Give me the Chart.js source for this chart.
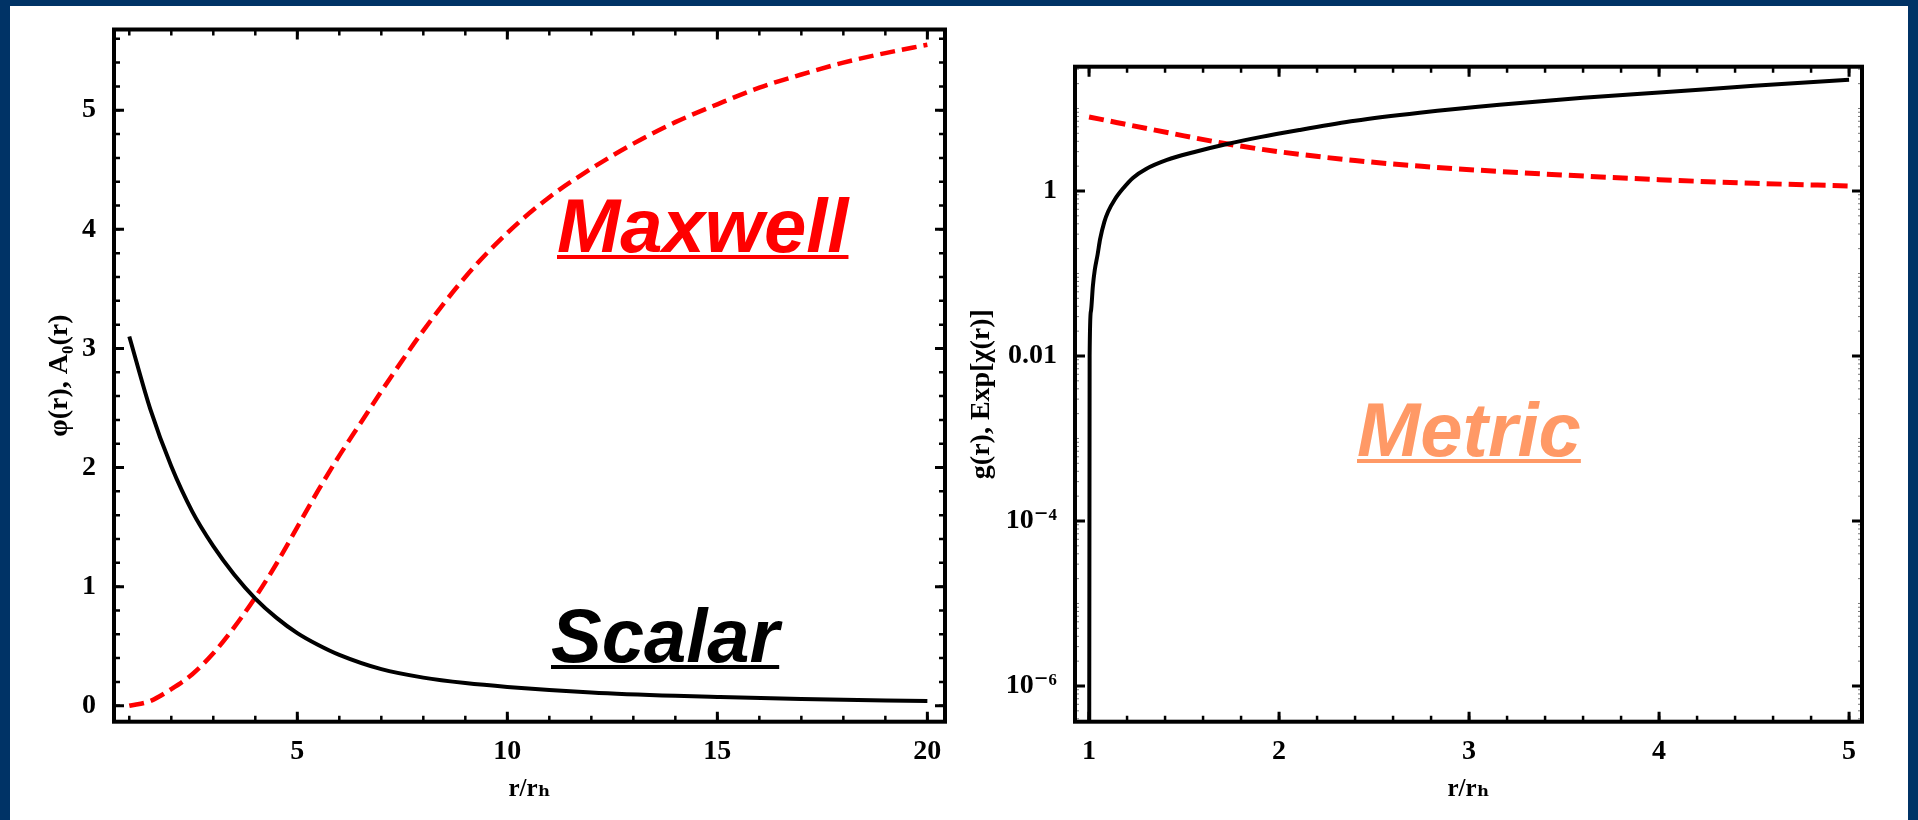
<!DOCTYPE html>
<html>

<head>
  <title>Scalar, Maxwell and metric profiles</title>
  <script src="https://cdn.jsdelivr.net/npm/chart.js@4.4.1/dist/chart.umd.min.js"></script>

  <style>
    body {
      margin: 0;
      background-color: #003366;
      width: 1918px;
      height: 820px;
      overflow: hidden;
      position: relative;
    }

    .panel {
      position: absolute;
      left: 10px;
      top: 6px;
      width: 1898px;
      height: 814px;
      background: white;
    }

    canvas {
      position: absolute;
      top: 0;
    }

    #fieldChart {
      left: 0;
    }

    #metricChart {
      left: 960px;
    }

    .tag {
      position: absolute;
      font-family: 'Liberation Sans', Arial, sans-serif;
      font-weight: bold;
      font-style: italic;
      font-size: 76px;
      line-height: 76px;
      text-decoration: underline;
      text-decoration-thickness: 4px;
      text-underline-offset: 3px;
      white-space: nowrap;
    }
  </style>
</head>

<body>
  <div class="panel"></div>
  <canvas id="fieldChart" width="960" height="820"></canvas>
  <canvas id="metricChart" width="958" height="820"></canvas>

  <div class="tag" style="left:557px; top:188px; color:#ff0000;">Maxwell</div>
  <div class="tag" style="left:551px; top:598px; color:#000000;">Scalar</div>
  <div class="tag" style="left:1357px; top:392px; color:#ff9966;">Metric</div>

  <script>
    // left panel: scalar field phi(r) and Maxwell potential A0(r)
    const scalarR = [1, 1.5, 2, 2.5, 3, 3.5, 4, 4.5, 5, 5.5, 6, 7, 8, 9, 10, 12, 14, 15, 17, 20];
    const scalarPhi = [3.1, 2.49, 2.01, 1.63, 1.34, 1.1, 0.9, 0.74, 0.61, 0.51, 0.427, 0.307, 0.236, 0.19, 0.158, 0.112, 0.083, 0.073, 0.056, 0.04];

    const maxwellR = [1, 1.5, 2, 2.5, 3, 3.5, 4, 4.5, 5, 5.5, 6, 6.5, 7, 7.5, 8, 9, 10, 11, 12, 13, 14, 15, 16, 17, 18, 19, 20];
    const maxwellA0 = [0, 0.04, 0.14, 0.265, 0.44, 0.66, 0.91, 1.19, 1.5, 1.81, 2.1, 2.37, 2.64, 2.9, 3.15, 3.6, 3.97, 4.27, 4.51, 4.72, 4.9, 5.05, 5.19, 5.3, 5.4, 5.48, 5.55];

    // right panel: metric function g(r) and Exp[chi(r)]
    const metricR = [1, 1.003, 1.01, 1.02, 1.03, 1.045, 1.058, 1.08, 1.1, 1.137, 1.18, 1.232, 1.3, 1.41, 1.55, 1.726, 1.9, 2.11, 2.4, 2.74, 3.16, 3.6, 4.04, 4.5, 5];
    const metricG = [1e-9, 0.01, 0.035, 0.07, 0.11, 0.17, 0.26, 0.42, 0.56, 0.8, 1.08, 1.45, 1.85, 2.38, 2.95, 3.71, 4.5, 5.5, 7.1, 8.87, 11.1, 13.5, 15.8, 18.8, 22.3];

    const chiR = [1, 1.15, 1.33, 1.5, 1.73, 2.0, 2.4, 2.75, 3.17, 3.5, 4.0, 4.5, 5.0];
    const chiExp = [7.9, 6.73, 5.56, 4.66, 3.71, 2.99, 2.34, 1.99, 1.72, 1.56, 1.37, 1.24, 1.15];

    // tick labels
    const fieldXTicks = [5, 10, 15, 20];
    const fieldYTicks = [0, 1, 2, 3, 4, 5];
    const metricXTicks = [1, 2, 3, 4, 5];
    const metricYTicks = [1e-6, 1e-4, 1e-2, 1];
    const metricYLabels = ['10⁻⁶', '10⁻⁴', '0.01', '1'];

    const serif = "'Liberation Serif', 'DejaVu Serif', 'Times New Roman', serif";
    const tickFont = { family: serif, size: 28, weight: 'bold' };
    const titleFont = { family: serif, size: 25, weight: 'bold' };
    const yTitleFont = { family: serif, size: 28, weight: 'bold' };

    function steps(from, to, step) {
      const out = [];
      for (let v = from; v <= to + 1e-9; v += step) out.push(+v.toFixed(4));
      return out;
    }

    function logMinor(lo, hi) {
      const out = [];
      for (let n = lo; n <= hi; n++) {
        for (let k = 1; k < 10; k++) out.push(k * Math.pow(10, n));
      }
      return out;
    }

    function points(xs, ys) {
      return xs.map((x, i) => ({ x: x, y: ys[i] }));
    }

    // Mathematica style frame: ticks pointing inwards on all four sides
    const frameTicks = {
      id: 'frameTicks',
      afterDatasetsDraw(chart, args, opts) {
        const { ctx, chartArea: a } = chart;
        const sx = chart.scales.x;
        const sy = chart.scales.y;
        ctx.save();
        ctx.lineCap = 'butt';

        function drawX(vals, len, w, col) {
          ctx.lineWidth = w;
          ctx.strokeStyle = col;
          ctx.beginPath();
          vals.forEach(v => {
            const p = sx.getPixelForValue(v);
            if (p < a.left || p > a.right) return;
            ctx.moveTo(p, a.bottom);
            ctx.lineTo(p, a.bottom - len);
            ctx.moveTo(p, a.top);
            ctx.lineTo(p, a.top + len);
          });
          ctx.stroke();
        }

        function drawY(vals, len, w, col) {
          ctx.lineWidth = w;
          ctx.strokeStyle = col;
          ctx.beginPath();
          vals.forEach(v => {
            const p = sy.getPixelForValue(v);
            if (p < a.top || p > a.bottom) return;
            ctx.moveTo(a.left, p);
            ctx.lineTo(a.left + len, p);
            ctx.moveTo(a.right, p);
            ctx.lineTo(a.right - len, p);
          });
          ctx.stroke();
        }

        drawX(opts.xMinor, 6, 2.5, '#000');
        drawX(opts.xMajor, 10, 3, '#000');
        drawY(opts.yMinor, opts.yMinorLen, opts.yMinorWidth, opts.yMinorColor);
        drawY(opts.yMajor, 10, 3, '#000');

        ctx.lineWidth = 4;
        ctx.strokeStyle = '#000';
        ctx.strokeRect(a.left, a.top, a.right - a.left, a.bottom - a.top);
        ctx.restore();
      }
    };

    function axisX(min, max, ticks, height) {
      return {
        type: 'linear',
        min: min,
        max: max,
        afterBuildTicks: s => { s.ticks = ticks.map(v => ({ value: v })); },
        afterFit: s => { s.height = height; },
        grid: { display: false },
        border: { display: false },
        ticks: {
          padding: 5,
          color: '#000',
          font: tickFont,
          autoSkip: false,
          maxRotation: 0,
          callback: v => String(v)
        },
        title: {
          display: true,
          text: 'r/rₕ',
          color: '#000',
          font: titleFont,
          padding: { top: 0, bottom: 15 }
        }
      };
    }

    // ---- left chart ----
    new Chart(document.getElementById('fieldChart').getContext('2d'), {
      type: 'line',
      data: {
        datasets: [
          {
            label: 'φ(r)',
            data: points(scalarR, scalarPhi),
            borderColor: '#000000',
            borderWidth: 4,
            pointRadius: 0,
            fill: false,
            cubicInterpolationMode: 'monotone'
          },
          {
            label: 'A₀(r)',
            data: points(maxwellR, maxwellA0),
            borderColor: '#ff0000',
            borderWidth: 4.5,
            borderDash: [15, 7],
            pointRadius: 0,
            fill: false,
            cubicInterpolationMode: 'monotone'
          }
        ]
      },
      options: {
        responsive: false,
        animation: false,
        devicePixelRatio: 1,
        layout: { padding: { top: 29.5, right: 15, left: 0, bottom: 0 } },
        plugins: {
          legend: { display: false },
          tooltip: { enabled: false },
          frameTicks: {
            xMajor: fieldXTicks,
            xMinor: steps(1, 20, 1),
            yMajor: fieldYTicks,
            yMinor: steps(0, 5.6, 0.2),
            yMinorLen: 6,
            yMinorWidth: 2.5,
            yMinorColor: '#000'
          }
        },
        scales: {
          x: axisX(0.636, 20.42, fieldXTicks, 98.3),
          y: {
            type: 'linear',
            min: -0.134,
            max: 5.678,
            afterBuildTicks: s => { s.ticks = fieldYTicks.map(v => ({ value: v })); },
            afterFit: s => { s.width = 114; },
            grid: { display: false },
            border: { display: false },
            ticks: {
              padding: 10,
              color: '#000',
              font: tickFont,
              autoSkip: false,
              callback: v => String(v)
            },
            title: {
              display: true,
              text: 'φ(r), A₀(r)',
              color: '#000',
              font: yTitleFont,
              padding: { top: 43, bottom: 0 }
            }
          }
        }
      },
      plugins: [frameTicks]
    });

    // ---- right chart (log scale) ----
    new Chart(document.getElementById('metricChart').getContext('2d'), {
      type: 'line',
      data: {
        datasets: [
          {
            label: 'g(r)',
            data: points(metricR, metricG),
            borderColor: '#000000',
            borderWidth: 4,
            pointRadius: 0,
            fill: false,
            cubicInterpolationMode: 'monotone'
          },
          {
            label: 'Exp[χ(r)]',
            data: points(chiR, chiExp),
            borderColor: '#ff0000',
            borderWidth: 5,
            borderDash: [15, 7],
            pointRadius: 0,
            fill: false,
            cubicInterpolationMode: 'monotone'
          }
        ]
      },
      options: {
        responsive: false,
        animation: false,
        devicePixelRatio: 1,
        layout: { padding: { top: 66.7, right: 56, left: 0, bottom: 0 } },
        plugins: {
          legend: { display: false },
          tooltip: { enabled: false },
          frameTicks: {
            xMajor: metricXTicks,
            xMinor: steps(1, 5, 0.2),
            yMajor: metricYTicks,
            yMinor: logMinor(-7, 1),
            yMinorLen: 4,
            yMinorWidth: 1,
            yMinorColor: '#777'
          }
        },
        scales: {
          x: axisX(0.926, 5.068, metricXTicks, 98.3),
          y: {
            type: 'logarithmic',
            min: 3.69e-7,
            max: 32.1,
            afterBuildTicks: s => { s.ticks = metricYTicks.map(v => ({ value: v })); },
            afterFit: s => { s.width = 115; },
            grid: { display: false },
            border: { display: false },
            ticks: {
              padding: 10,
              color: '#000',
              font: tickFont,
              autoSkip: false,
              callback: (v, i) => metricYLabels[i]
            },
            title: {
              display: true,
              text: 'g(r), Exp[χ(r)]',
              color: '#000',
              font: yTitleFont,
              padding: { top: 5, bottom: 0 }
            }
          }
        }
      },
      plugins: [frameTicks]
    });
  </script>
</body>

</html>
